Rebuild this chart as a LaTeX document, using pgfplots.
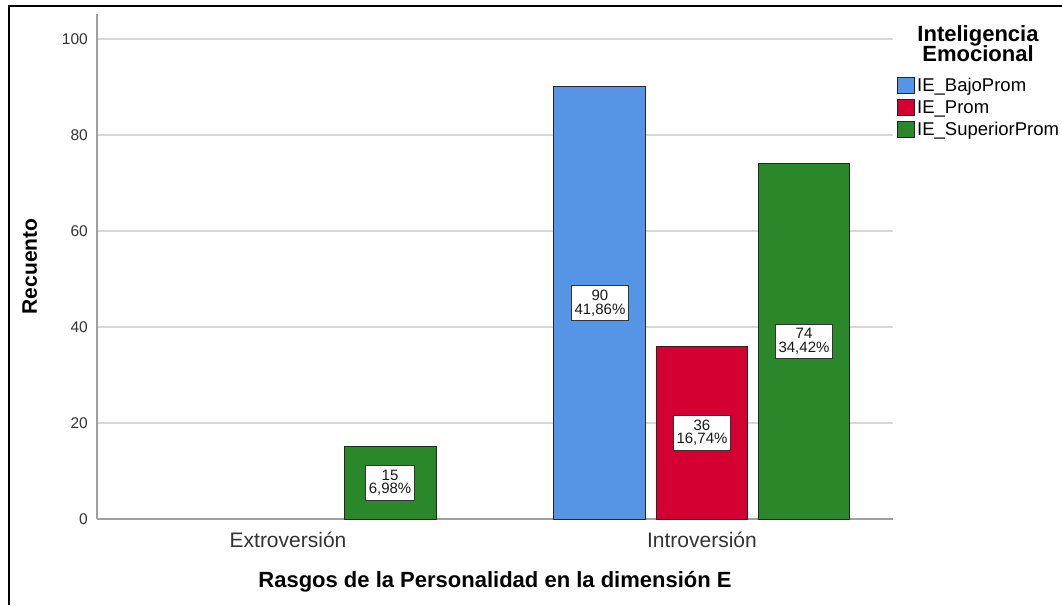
\documentclass[border=0pt]{standalone}
\usepackage{fontspec}
\setmainfont{Liberation Sans}
\usepackage{pgfplots}
\usepackage{pgfplotstable}
\pgfplotsset{compat=1.18}

\definecolor{cblue}{RGB}{86,148,229}
\definecolor{cred}{RGB}{213,0,50}
\definecolor{cgreen}{RGB}{42,136,42}
\definecolor{axisgray}{RGB}{160,160,160}
\definecolor{gridgray}{RGB}{216,216,216}

% x = category (0 Extroversion, 1 Introversion) + group offset
\pgfplotstableread{
x y pct
0.7536 90 41.86
}\tblue
\pgfplotstableread{
x y pct
1.0000 36 16.74
}\tred
\pgfplotstableread{
x y pct
0.2464 15 6.98
1.2464 74 34.42
}\tgreen

\pgfplotsset{
  mybar/.style={ybar, bar width=0.2222, bar shift=0pt, draw=black!85, line width=1pt,
    legend image code/.code={\draw[##1, draw=black!85, line width=1pt] (0pt,-8pt) rectangle (17pt,8pt);}},
  mylab/.style={draw=none, mark=none, forget plot,
    point meta=\thisrow{y},
    visualization depends on={\thisrow{pct}\as\pct},
    nodes near coords={\pgfmathprintnumber{\pgfplotspointmeta}\\\pgfmathprintnumber[fixed,fixed zerofill,precision=2,use comma]{\pct}\%},
    every node near coord/.style={anchor=center, draw=black!80, fill=white, align=center,
      inner xsep=3pt, inner ysep=4.5pt, line width=1pt, text=black!90,
      font=\fontsize{15}{13.5}\selectfont}},
}

\begin{document}
\begin{tikzpicture}
\begin{axis}[
  at={(97pt,86pt)}, anchor=south west,
  scale only axis, width=796pt, height=505pt,
  xmin=-0.4614, xmax=1.4614, ymin=0, ymax=105.2,
  xtick={0,1}, xticklabels={Extroversión,Introversión},
  ytick={0,20,40,60,80,100},
  axis x line*=bottom, axis y line*=left,
  axis line style={-, draw=axisgray, line width=1.5pt},
  every outer x axis line/.append style={-},
  every outer y axis line/.append style={-},
  major tick length=0pt,
  ymajorgrids, grid style={draw=gridgray, line width=1.5pt},
  /pgf/number format/assume math mode=true,
  yticklabel style={anchor=east, inner sep=0pt, xshift=-9pt, text=black!80,
    font=\fontsize{15.5}{16}\selectfont},
  xticklabel style={anchor=base, inner sep=0pt, yshift=-28pt, text=black!80,
    font=\fontsize{21}{22}\selectfont},
  xlabel={Rasgos de la Personalidad en la dimensión E},
  ylabel={Recuento},
  xlabel style={at={(axis description cs:0.5,-0.1347)}, anchor=base, inner sep=0pt,
    font=\bfseries\fontsize{22}{24}\selectfont},
  ylabel style={at={(axis description cs:-0.0754,0.5)}, anchor=base, inner sep=0pt,
    font=\bfseries\fontsize{21}{24}\selectfont},
  legend style={at={(rel axis cs:1,1)}, anchor=north west, xshift=4pt, yshift=-62pt,
    draw=none, fill=none, inner sep=0pt, row sep=3.5pt,
    font=\fontsize{18.5}{18}\selectfont,
    /tikz/every even column/.append style={column sep=3pt}},
  legend cell align=left,
]
\addplot[mybar, fill=cblue] table[x=x,y=y] {\tblue};
\addlegendentry{IE\_BajoProm}
\addplot[mybar, fill=cred] table[x=x,y=y] {\tred};
\addlegendentry{IE\_Prom}
\addplot[mybar, fill=cgreen] table[x=x,y=y] {\tgreen};
\addlegendentry{IE\_SuperiorProm}

\addplot[mylab] table[x=x, y expr=\thisrow{y}/2] {\tblue};
\addplot[mylab] table[x=x, y expr=\thisrow{y}/2] {\tred};
\addplot[mylab] table[x=x, y expr=\thisrow{y}/2] {\tgreen};
\end{axis}

\node[anchor=base, inner sep=0pt, font=\bfseries\fontsize{22}{22}\selectfont] at (978pt,563.3pt) {Inteligencia};
\node[anchor=base, inner sep=0pt, font=\bfseries\fontsize{22}{22}\selectfont] at (978pt,543.3pt) {Emocional};

\draw[line width=2pt, black] (9pt,0pt) -- (9pt,599pt) -- (1062pt,599pt);

\pgfresetboundingbox
\path[use as bounding box] (0pt,0pt) rectangle (1062pt,605pt);
\end{tikzpicture}
\end{document}
